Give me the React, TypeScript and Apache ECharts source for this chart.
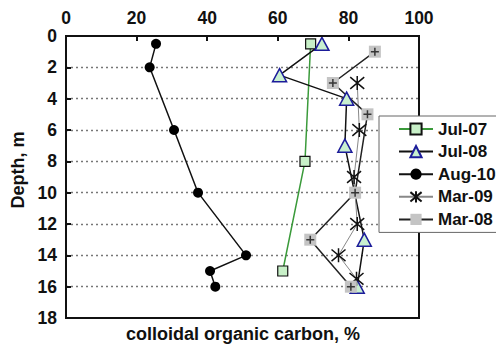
import React, { useEffect, useRef } from "react";
import * as echarts from "echarts";

const xTicks = [0, 20, 40, 60, 80, 100];
const yTicks = [0, 2, 4, 6, 8, 10, 12, 14, 16, 18];

const jul07Depth = [0.5, 8, 15];
const jul07 = [69.3, 67.7, 61.4];
const jul08Depth = [0.5, 2.5, 4, 7, 13, 16];
const jul08 = [72.5, 60.5, 79.5, 79, 84.5, 82.5];
const aug10Depth = [0.5, 2, 6, 10, 14, 15, 16];
const aug10 = [25.5, 23.7, 30.6, 37.4, 51, 40.8, 42.3];
const mar09Depth = [3, 6, 9, 12, 14, 15.5];
const mar09 = [82.5, 83.1, 81.6, 82.5, 77.2, 82.3];
const mar08Depth = [1, 3, 5, 10, 13, 16];
const mar08 = [87.5, 75.6, 85.4, 81.9, 69.2, 80.7];

const pairs = (xs: number[], ys: number[]) => xs.map((v, i) => [v, ys[i]]);

const FONT = "'Liberation Sans', Arial, sans-serif";
const ASTERISK = "path://M0 0 L10 10 M10 0 L0 10 M5 -1 L5 11";
const PLUS = "path://M5 0 L5 10 M0 5 L10 5";

export default function App() {
  const ref = useRef<HTMLDivElement>(null);
  useEffect(() => {
    if (!ref.current) return;
    const chart = echarts.init(ref.current, undefined, { renderer: "svg" });
    const G = { left: 66, top: 36, width: 353, height: 282 };
    chart.setOption({
      animation: false,
      backgroundColor: "#fff",
      grid: { left: G.left, top: G.top, width: G.width, height: G.height, show: false },
      xAxis: {
        type: "value",
        position: "top",
        min: xTicks[0],
        max: xTicks[xTicks.length - 1],
        interval: 20,
        axisLine: { show: true, lineStyle: { color: "#111", width: 2 } },
        axisTick: { show: true, inside: true, length: 5, lineStyle: { color: "#111", width: 2 } },
        axisLabel: { fontSize: 17.5, fontWeight: "bold", color: "#111", fontFamily: FONT, margin: 9 },
        splitLine: { show: false },
      },
      yAxis: {
        type: "value",
        inverse: true,
        min: yTicks[0],
        max: yTicks[yTicks.length - 1],
        interval: 2,
        axisLine: { show: true, lineStyle: { color: "#111", width: 2 } },
        axisTick: { show: true, inside: true, length: 5, lineStyle: { color: "#111", width: 2 } },
        axisLabel: { fontSize: 17.5, fontWeight: "bold", color: "#111", fontFamily: FONT, margin: 9 },
        splitLine: {
          show: true,
          showMinLine: false,
          showMaxLine: false,
          lineStyle: { color: "#777", type: [2, 3], width: 1.3 },
        },
      },
      legend: {
        data: ["Jul-07", "Jul-08", "Aug-10", "Mar-09", "Mar-08"],
        orient: "vertical",
        left: 379,
        top: 116,
        padding: [3, 40, 3, 19],
        itemWidth: 34,
        itemHeight: 14,
        itemGap: 2.6,
        backgroundColor: "#fff",
        borderColor: "#666",
        borderWidth: 1,
        z: 10,
        textStyle: { fontSize: 17, fontWeight: "bold", color: "#111", fontFamily: FONT, lineHeight: 20 },
      },
      graphic: [
        {
          type: "rect",
          z: 3,
          shape: { x: G.left, y: G.top, width: G.width, height: G.height },
          style: { fill: "none", stroke: "#111", lineWidth: 2 },
        },
        {
          type: "text",
          x: 18,
          y: 170,
          rotation: Math.PI / 2,
          style: {
            text: "Depth, m",
            fontSize: 18,
            fontWeight: "bold",
            fontFamily: FONT,
            fill: "#111",
            textAlign: "center",
            textVerticalAlign: "middle",
          },
        },
        {
          type: "text",
          x: 243,
          y: 334,
          style: {
            text: "colloidal organic carbon, %",
            fontSize: 18,
            fontWeight: "bold",
            fontFamily: FONT,
            fill: "#111",
            textAlign: "center",
            textVerticalAlign: "middle",
          },
        },
      ],
      series: [
        {
          name: "Jul-07",
          type: "line",
          data: pairs(jul07, jul07Depth),
          symbol: "rect",
          symbolSize: 10,
          lineStyle: { color: "#3a9a3a", width: 1.5 },
          itemStyle: { color: "#c8f0c8", borderColor: "#111", borderWidth: 1.2 },
          z: 2,
        },
        {
          name: "Jul-08",
          type: "line",
          data: pairs(jul08, jul08Depth),
          symbol: "triangle",
          symbolSize: [14, 13],
          lineStyle: { color: "#111", width: 1.5 },
          itemStyle: { color: "#c8f0d0", borderColor: "#1c1c9a", borderWidth: 1.5 },
          z: 2,
        },
        {
          name: "Aug-10",
          type: "line",
          data: pairs(aug10, aug10Depth),
          symbol: "circle",
          symbolSize: 10,
          lineStyle: { color: "#111", width: 1.5 },
          itemStyle: { color: "#000" },
          z: 2,
        },
        {
          name: "Mar-09",
          type: "line",
          data: pairs(mar09, mar09Depth),
          symbol: ASTERISK,
          symbolSize: 14,
          lineStyle: { color: "#888", width: 1 },
          itemStyle: { color: "none", borderColor: "#111", borderWidth: 1.5 },
          z: 2,
        },
        {
          name: "Mar-08",
          type: "line",
          data: pairs(mar08, mar08Depth),
          symbol: "rect",
          symbolSize: 12,
          lineStyle: { color: "#222", width: 1.5 },
          itemStyle: { color: "#c4c4c4" },
          z: 2,
        },
        {
          name: "Mar-08 plus",
          type: "scatter",
          data: pairs(mar08, mar08Depth),
          symbol: PLUS,
          symbolSize: 8,
          itemStyle: { color: "none", borderColor: "#111", borderWidth: 1.5 },
          z: 3,
          silent: true,
        },
      ],
    });
    return () => chart.dispose();
  }, []);
  return <div ref={ref} style={{ width: 496, height: 344, position: "absolute", left: 0, top: 0 }} />;
}
